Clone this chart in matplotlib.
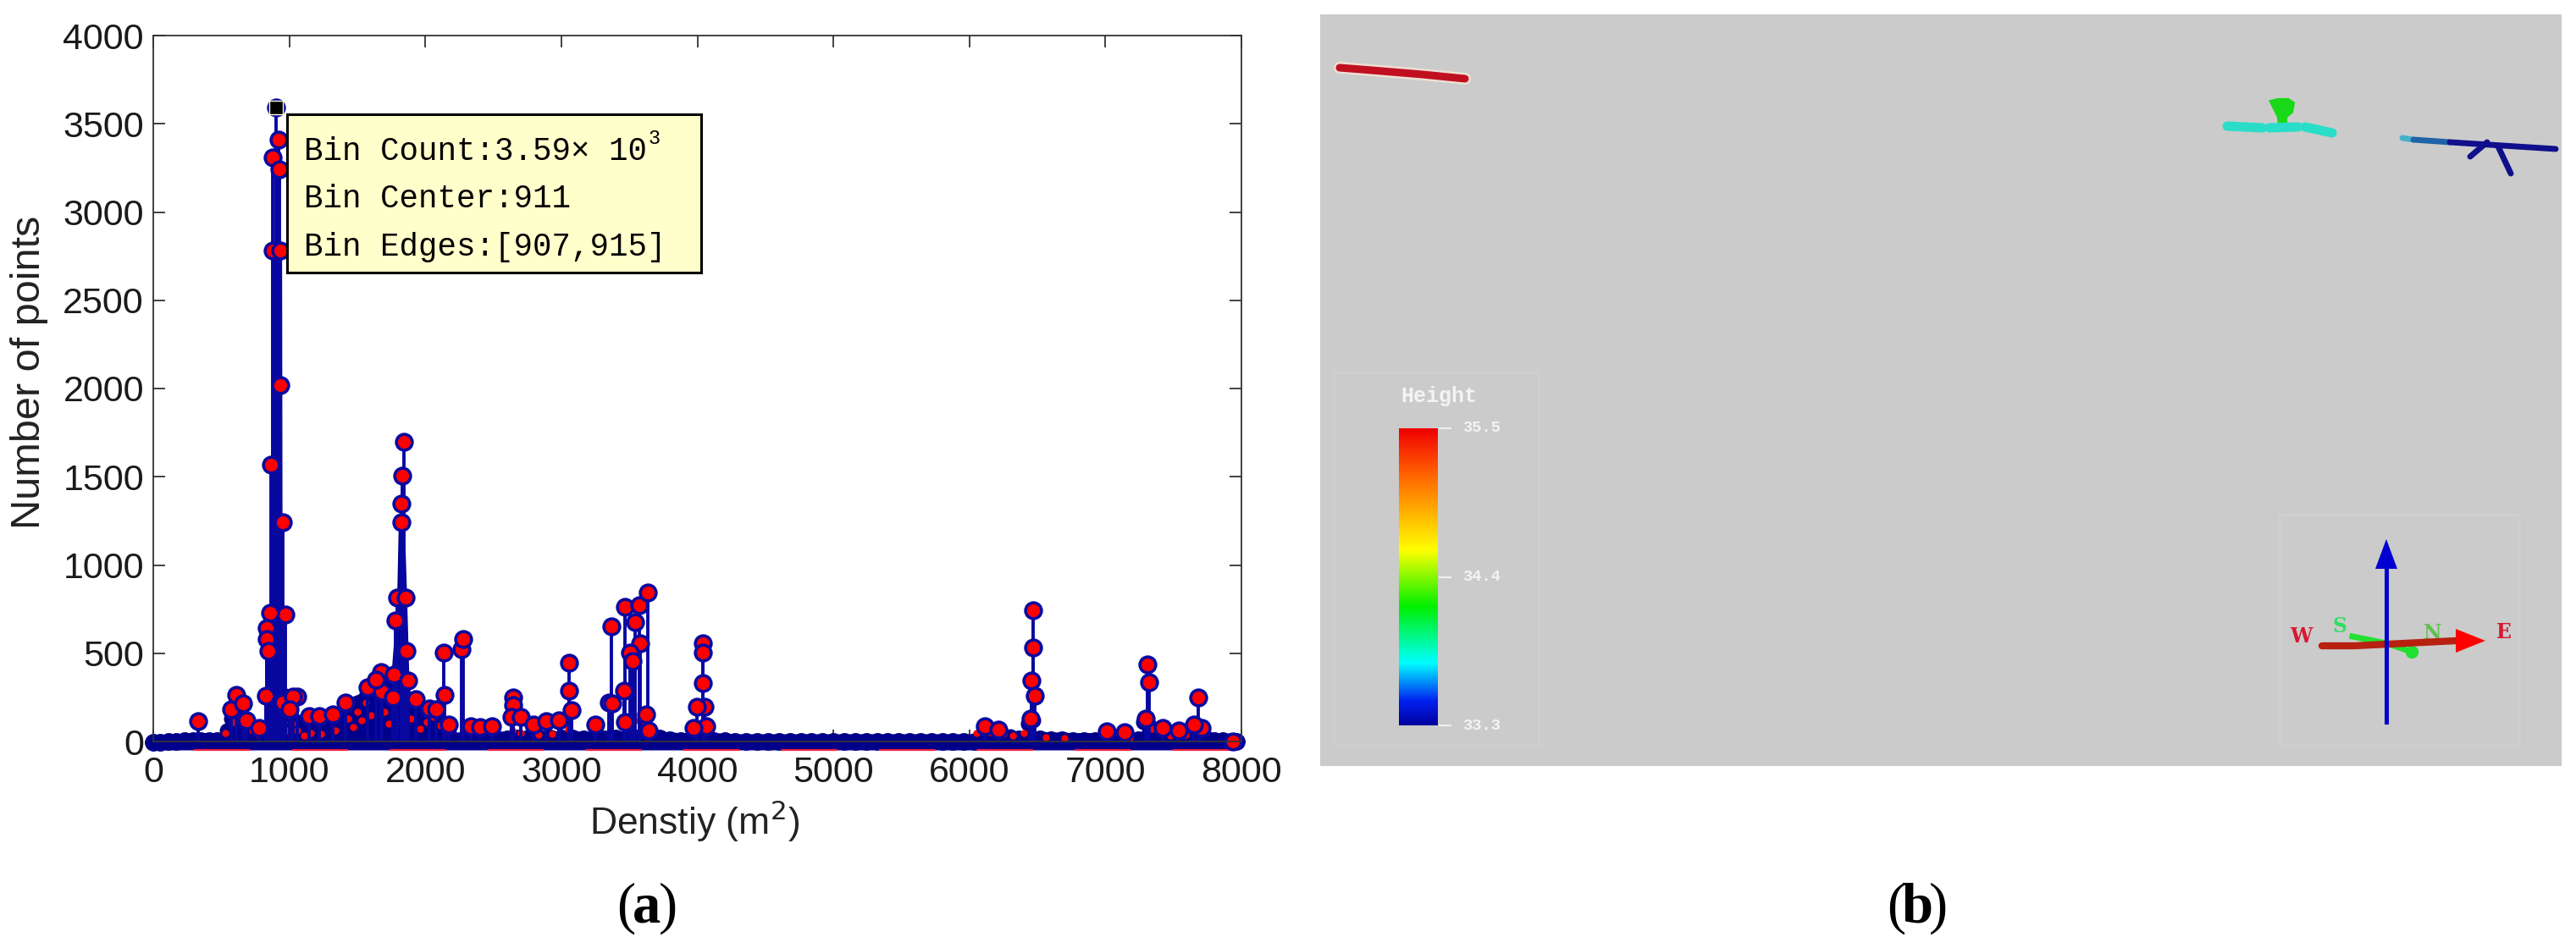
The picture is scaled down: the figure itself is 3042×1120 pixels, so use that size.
import matplotlib
matplotlib.use("Agg")
import matplotlib.pyplot as plt
import numpy as np
from matplotlib.colors import LinearSegmentedColormap
from matplotlib.patches import Rectangle, Polygon

W, H = 3042, 1120

# (a) histogram values
base_x = [0, 50, 110, 170, 230, 290, 350, 410, 470, 530, 700, 800, 1000, 1100, 1200, 1300, 1400, 1500, 1600, 1700,
          1800, 1900, 2000, 2100, 2200, 2280, 2360, 2440, 2520, 2600, 2680, 2760, 2840, 2920, 3000, 3080, 3160, 3240,
          3320, 3400, 3480, 3560, 3640, 3720, 3800, 3880, 3960, 4040, 4120, 4200, 4280, 4360, 4440, 4520, 4600, 4680,
          4760, 4840, 4920, 5000, 5080, 5160, 5240, 5320, 5400, 5480, 5560, 5640, 5720, 5800, 5880, 5960, 6040, 6120,
          6200, 6280, 6360, 6440, 6520, 6600, 6680, 6760, 6840, 6920, 7000, 7080, 7160, 7240, 7320, 7400, 7480, 7560,
          7640, 7720, 7800, 7860, 7920, 7960]
base_y = [0, 2, 3, 5, 8, 10, 12, 12, 12, 12, 20, 25, 25, 25, 25, 25, 25, 25, 25, 25,
          25, 25, 25, 25, 15, 15, 20, 20, 20, 20, 22, 22, 22, 22, 22, 22, 20, 20,
          20, 22, 22, 22, 22, 22, 15, 12, 12, 15, 12, 8, 5, 5, 5, 5, 5, 5,
          5, 5, 5, 5, 5, 5, 5, 5, 5, 5, 5, 5, 5, 5, 5, 5, 5, 20,
          30, 25, 20, 25, 20, 15, 15, 12, 12, 12, 15, 12, 15, 15, 30, 25, 20, 15,
          25, 25, 12, 8, 5, 3]

bulk_x = [510, 540, 570, 590, 610, 640, 670, 700, 730, 760, 790, 810, 825, 838, 850, 866, 872, 944, 948, 960, 970, 985,
          1010, 1040, 1070, 1110, 1150, 1190, 1230, 1270, 1310, 1350, 1380, 1400, 1430, 1470, 1500, 1530, 1570, 1610,
          1640, 1680, 1710, 1740, 1770, 1790, 1802, 1820, 1845, 1864, 1880, 1900, 1930, 1960, 2000, 2040, 2090, 2140,
          2170, 2210, 6080, 6120, 6170, 6230, 6300, 6340, 6400, 6430, 6470, 6510, 7250, 7280, 7320, 7380, 7430, 7480,
          7620, 7640, 7690, 7730, 7770]
bulk_y = [0, 60, 130, 170, 190, 170, 120, 90, 70, 60, 50, 50, 500, 620, 700, 730, 2780, 2780, 730, 700, 260, 180,
          130, 115, 110, 110, 110, 110, 110, 110, 110, 110, 130, 170, 160, 190, 220, 230, 270, 300,
          330, 350, 310, 290, 600, 810, 1250, 1350, 1250, 800, 340, 210, 190, 150, 140, 130, 120, 90,
          50, 0, 0, 60, 55, 45, 30, 0, 0, 100, 120, 0, 0, 110, 90, 50, 40, 0,
          0, 60, 60, 30, 0]

point_x = [905, 922, 880, 925, 875, 932, 935, 868, 955, 970, 857, 832, 835, 848, 826, 1059, 333, 571, 613, 657,
           683, 778, 952, 1025, 1000, 1143, 1222, 1317, 1413, 1572, 1676, 1683, 1635, 1768, 1762, 1778, 1794, 1857,
           1841, 1832, 1825, 1825, 1864, 1873, 1927, 2032, 2080, 2175, 2134, 2143, 2264, 2276, 2334, 2403, 2492,
           2645, 2645, 2635, 2705, 2794, 2889, 2985, 3058, 3058, 3073, 3248, 3365, 3350, 3372, 3467, 3461, 3470,
           3540, 3572, 3578, 3502, 3524, 3635, 3626, 3642, 4038, 4038, 4043, 4051, 3995, 4066, 3975, 6467, 6467,
           6455, 6478, 6450, 6113, 6213, 7011, 7139, 7310, 7319, 7296, 7424, 7538, 7681, 7709, 7652, 7937]
point_y = [3590, 3410, 3310, 3240, 2780, 2780, 2020, 1570, 1240, 720, 728, 642, 582, 514, 257, 253, 115, 180, 265, 214,
           120, 77, 220, 253, 180, 145, 145, 154, 223, 308, 394, 283, 351, 377, 248, 685, 813, 813,
           1697, 1507, 1348, 1242, 514, 346, 240, 188, 180, 94, 505, 265, 522, 582, 86, 80, 86,
           248, 205, 137, 140, 94, 115, 120, 445, 288, 176, 94, 654, 223, 218, 762, 286, 111,
           677, 771, 557, 505, 454, 843, 154, 63, 557, 502, 329, 197, 197, 86, 77, 745, 534,
           346, 257, 128, 86, 68, 56, 51, 437, 334, 128, 77, 60, 250, 77, 94, 0]

fleck_x = [530, 590, 610, 640, 690, 730, 775, 960, 985, 1020, 1060, 1110, 1160, 1230, 1340, 1430, 1470, 1500, 1530,
           1560, 1600, 1650, 1700, 1730, 1890, 1960, 2010, 2060, 2110, 2150, 2640, 2700, 2830, 2930, 3050, 3540, 3600,
           6050, 6150, 6250, 6320, 6400, 6560, 6700, 7180, 7340, 7400, 7480, 7590]
fleck_y = [50, 110, 150, 120, 90, 60, 40, 110, 60, 100, 60, 35, 50, 45, 60, 130, 80, 170, 120,
           220, 150, 260, 170, 100, 130, 70, 110, 140, 90, 60, 60, 50, 40, 45, 70, 120, 90,
           50, 55, 45, 35, 50, 25, 20, 25, 70, 50, 35, 40]

x_ticks = [0, 1000, 2000, 3000, 4000, 5000, 6000, 7000, 8000]
y_ticks = [0, 500, 1000, 1500, 2000, 2500, 3000, 3500, 4000]
tip_lines = ["Bin Count:3.59× 10", "Bin Center:911", "Bin Edges:[907,915]"]

# (b) map panel, traced in pixels of the picture
red_x, red_y = [1582, 1620, 1680, 1730], [80, 83, 88, 93]
cyan_segments = [([2630, 2672], [149, 151]), ([2680, 2714], [151, 150]), ([2722, 2754], [150, 157])]
green_head = [(2682, 120), (2690, 118), (2702, 118), (2708, 122), (2706, 132), (2699, 138), (2699, 147), (2692, 147), (2691, 138)]
gun_parts = [([2837, 2850], [163, 165], "#45B0C8"), ([2850, 2893], [165, 168], "#1F63A8"), ([2893, 3018], [168, 176], "#10108C"),
             ([2937, 2917], [168, 185], "#10108C"), ([2950, 2965], [173, 205], "#10108C")]
bar_stops = [0, 0.08, 0.21, 0.40, 0.59, 0.85, 1.0]
bar_colors = ["#0000A0", "#0020F0", "#00FFFF", "#00F000", "#FFFF00", "#FF6000", "#F00000"]
bar_labels = ["35.5", "34.4", "33.3"]
bar_label_y = [506, 682, 857]

plt.rcParams["font.family"] = ["Liberation Sans", "DejaVu Sans"]
fig = plt.figure(figsize=(W / 100, H / 100), dpi=100, facecolor="white")


def px_rect(l, t, r, b):
    return [l / W, 1 - b / H, (r - l) / W, (b - t) / H]


navy = "#00008B"
ax = fig.add_axes(px_rect(181, 42, 1466, 876))
band_top = [y + 38 for y in base_y]
ax.fill_between(base_x, -48, band_top, color=navy, lw=0, clip_on=False, zorder=2)
ax.plot(base_x, [y - 5 for y in base_y], "o", ms=14, color=navy, clip_on=False, zorder=2)
ax.hlines(-47, 300, 7950, color="#F0203C", lw=1.6, linestyles=(0, (30, 22)), clip_on=False, zorder=4)
ax.fill_between(bulk_x, 0, bulk_y, color=navy, lw=0, zorder=3)
low_x = [x for x, y in zip(bulk_x, bulk_y) if 0 < y <= 350]
low_y = [y for y in bulk_y if 0 < y <= 350]
ax.plot(low_x, low_y, "o", ms=12, color=navy, zorder=3)
ax.plot(fleck_x, fleck_y, "o", ms=5, color="#FF0000", zorder=4, clip_on=False)
ax.vlines(point_x, 0, point_y, color="#0808A0", lw=2.8, zorder=4)
ax.plot(point_x, point_y, "o", ms=13.5, mfc="#FF0000", mec="#0A0AA0", mew=2.6, zorder=5, clip_on=False)
ax.plot(point_x[0], point_y[0], "s", ms=11, color="black", mec="#FFFFCC", mew=1, zorder=6)
ax.set_xlim(0, 8000)
ax.set_ylim(0, 4000)
ax.set_xticks(x_ticks)
ax.set_yticks(y_ticks)
ax.tick_params(direction="in", length=10, width=1.3, top=True, right=True, labelsize=31, color="#333333",
               labelcolor="#1A1A1A", pad=8)
ax.tick_params(axis="x", pad=12)
for s in ax.spines.values():
    s.set_linewidth(1.3)
    s.set_color("#333333")
    s.set_zorder(7)
fig.text(35 / W, 1 - 440 / H, "Number of points", rotation=90, ha="center", va="center", fontsize=35, color="#222222")
fig.text(820 / W, 1 - 970 / H, "Denstiy (m$^2$)", ha="center", va="center", fontsize=32, color="#222222",
         math_fontfamily="custom")

# data tip
fig.add_artist(Rectangle((339 / W, 1 - 322 / H), 489 / W, 187 / H, transform=fig.transFigure, fc="#FFFFCC", ec="black",
                         lw=2.2, zorder=10))
for line, y_px in zip(tip_lines, [189, 245, 302]):
    fig.text(359 / W, 1 - y_px / H, line, family="Liberation Mono", fontsize=27, va="baseline", color="black", zorder=11)
fig.text(766 / W, 1 - 170 / H, "3", family="Liberation Mono", fontsize=17, va="baseline", color="black", zorder=11)

# panel labels
for x_px, letter in [(764, "a"), (2264, "b")]:
    fig.text((x_px - 14) / W, 1 - 1090 / H, "(", family="Liberation Serif", fontsize=48, ha="right", va="baseline")
    fig.text(x_px / W, 1 - 1090 / H, letter, family="Liberation Serif", weight="bold", fontsize=48, ha="center", va="baseline")
    fig.text((x_px + 14) / W, 1 - 1090 / H, ")", family="Liberation Serif", fontsize=48, ha="left", va="baseline")

# map panel
ax2 = fig.add_axes(px_rect(1559, 17, 3025, 905), facecolor="#CBCBCB")
ax2.axis("off")
ax2.add_patch(Rectangle((1559, 17), 1466, 888, fc="#CBCBCB", ec="none", zorder=0))
ax2.add_patch(Rectangle((1575, 440), 242, 440, fc="none", ec="#CFCFCF", lw=2))
ax2.add_patch(Rectangle((2692, 608), 283, 272, fc="none", ec="#CFCFCF", lw=2))

ax2.plot(red_x, red_y, color="#FFE8D8", lw=10, solid_capstyle="round", alpha=0.7)
ax2.plot(red_x, red_y, color="#C01020", lw=6.5, solid_capstyle="round")
for xs, ys in cyan_segments:
    ax2.plot(xs, ys, color="#2ADDC8", lw=8, solid_capstyle="round")
ax2.add_patch(Polygon(green_head, fc="#18D818", ec="#18D818", lw=3))
for xs, ys, c in gun_parts:
    ax2.plot(xs, ys, color=c, lw=5, solid_capstyle="round")

cmap = LinearSegmentedColormap.from_list("height", list(zip(bar_stops, bar_colors)))
ax2.imshow(np.linspace(1, 0, 256)[:, None], cmap=cmap, extent=[1652, 1698, 857, 506], aspect="auto", zorder=2)
ax2.text(1699, 468, "Height", family="Liberation Mono", weight="bold", fontsize=18, color="#F4F4F4", ha="center", va="center")
for lab, y_px in zip(bar_labels, bar_label_y):
    ax2.plot([1700, 1713], [y_px, y_px], color="#F0F0F0", lw=1.5)
    ax2.text(1727, y_px, lab, family="Liberation Mono", weight="bold", fontsize=13.5, color="#F4F4F4", ha="left", va="center")

# compass
ax2.plot([2818, 2818], [853, 672], color="#0000C8", lw=3.6)
ax2.add_patch(Polygon([(2818, 637), (2831, 672), (2805, 672)], fc="#0000D0", ec="none", zorder=3))
ax2.plot([2778, 2818, 2848], [752, 760, 770], color="#20E030", lw=5, zorder=3)
ax2.plot([2848], [770], "o", ms=10, color="#20E030", zorder=3)
ax2.plot([2742, 2780, 2900], [763, 763, 757], color="#B82010", lw=6, solid_capstyle="round", zorder=4)
ax2.add_patch(Polygon([(2935, 757), (2900, 743), (2900, 771)], fc="#FF0000", ec="none", zorder=4))
ax2.plot([2818, 2818], [755, 765], color="#0000C8", lw=3.6, zorder=5)
for letter, lx, ly, c in [("W", 2718, 752, "#D81830"), ("S", 2763, 740, "#30E060"), ("N", 2873, 748, "#60C050"), ("E", 2957, 747, "#D81830")]:
    ax2.text(lx, ly, letter, family="DejaVu Serif", weight="bold", fontsize=17, color=c, ha="center", va="center", zorder=3)

ax2.set_xlim(1559, 3025)
ax2.set_ylim(905, 17)
fig.savefig("out.png", dpi=100)
